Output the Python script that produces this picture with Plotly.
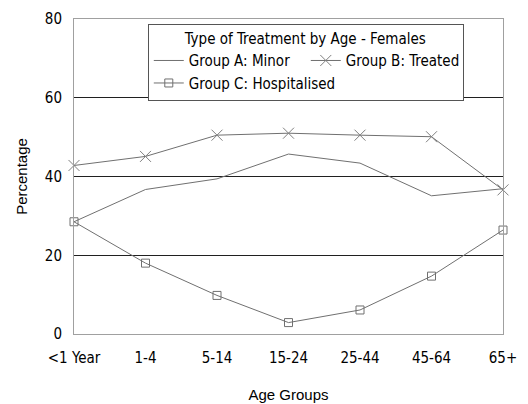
import plotly.graph_objects as go

age_groups = ["<1 Year", "1-4", "5-14", "15-24", "25-44", "45-64", "65+"]
group_a = [28.5, 36.7, 39.4, 45.7, 43.4, 35.1, 36.9]
group_b = [42.8, 45.1, 50.5, 51.0, 50.5, 50.1, 36.6]
group_c = [28.5, 18.0, 9.8, 2.9, 6.1, 14.7, 26.4]
y_ticks = [0, 20, 40, 60, 80]

NARROW = "DejaVu Sans Condensed, Liberation Sans Narrow, Arial Narrow, sans-serif"
REG = "Liberation Sans, Arial, sans-serif"
LC = "#707070"

fig = go.Figure()
fig.add_trace(go.Scatter(x=age_groups, y=group_a, mode="lines", name="Group A: Minor",
                         line=dict(color=LC, width=1), cliponaxis=False))
fig.add_trace(go.Scatter(x=age_groups, y=group_b, mode="lines+markers", name="Group B: Treated",
                         line=dict(color=LC, width=1),
                         marker=dict(symbol="x-thin-open", size=11, color="#808080",
                                     line=dict(color="#808080", width=1)),
                         cliponaxis=False))
fig.add_trace(go.Scatter(x=age_groups, y=group_c, mode="lines+markers", name="Group C: Hospitalised",
                         line=dict(color=LC, width=1),
                         marker=dict(symbol="square-open", size=8, color="#707070",
                                     line=dict(color="#707070", width=1)),
                         cliponaxis=False))

# page body has an 8px margin; size/margins compensate so the plot area sits at x 74-503, y 19-334
fig.update_layout(
    width=520, height=396,
    margin=dict(l=66, r=25, t=11, b=70),
    paper_bgcolor="white", plot_bgcolor="white",
    showlegend=True,
    legend=dict(
        x=0.172, y=0.985, xanchor="left", yanchor="top",
        orientation="h", entrywidth=112, entrywidthmode="pixels",
        bordercolor="#555555", borderwidth=1, bgcolor="white",
        font=dict(family=NARROW, size=15, color="black"),
        title=dict(text="Type of Treatment by Age - Females", side="top center",
                   font=dict(family=NARROW, size=15, color="black")),
        itemwidth=30, tracegroupgap=0,
    ),
    xaxis=dict(
        type="category", range=[0, 6], showgrid=False, zeroline=False, automargin=False,
        showline=True, linecolor="#a0a0a0", linewidth=1, mirror=True,
        ticks="outside", ticklen=10, tickcolor="rgba(0,0,0,0)",
        tickfont=dict(family=NARROW, size=15, color="black"),
        title=dict(text="Age Groups", font=dict(family=REG, size=15, color="black"), standoff=23),
    ),
    yaxis=dict(
        range=[0, 80], tickvals=y_ticks, showgrid=True, gridcolor="#202020", gridwidth=1,
        zeroline=False, automargin=False, showline=True, linecolor="#a0a0a0", linewidth=1, mirror=True,
        ticks="outside", ticklen=8, tickcolor="rgba(0,0,0,0)",
        tickfont=dict(family=NARROW, size=15, color="black"),
        title=dict(text="Percentage", font=dict(family=REG, size=15, color="black"), standoff=13),
    ),
)

fig.write_html("out.html")
